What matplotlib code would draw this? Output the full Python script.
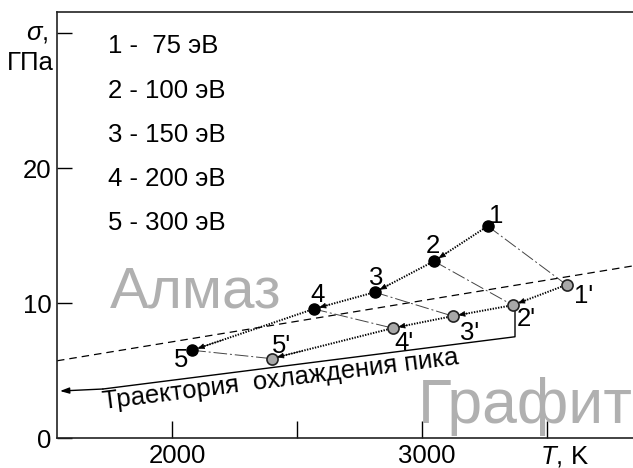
import numpy as np
import matplotlib.pyplot as plt
from matplotlib.transforms import ScaledTranslation

plt.rcParams['font.family'] = ['Liberation Sans', 'DejaVu Sans']
plt.rcParams['mathtext.fontset'] = 'custom'
plt.rcParams['mathtext.rm'] = 'Liberation Sans'
plt.rcParams['mathtext.it'] = 'Liberation Sans:italic'

# peak points 1..5 (filled) and after cooling 1'..5' (open)
T_peak = [3263, 3048, 2811, 2567, 2081]
s_peak = [15.7, 13.1, 10.8, 9.56, 6.5]
T_cool = [3578, 3363, 3123, 2883, 2398]
s_cool = [11.35, 9.84, 9.03, 8.14, 5.88]
peak_names = ['1', '2', '3', '4', '5']
cool_names = ["1'", "2'", "3'", "4'", "5'"]
legend_lines = ['1 -  75 эВ', '2 - 100 эВ', '3 - 150 эВ', '4 - 200 эВ', '5 - 300 эВ']

# diamond / graphite boundary
T_bound = [1540, 3844]
s_bound = [5.72, 12.75]

# cooling trajectory bracket
T_traj = [3372, 3372, 1724]
s_traj = [9.45, 7.5, 3.63]
T_arrow_end, s_arrow_end = 1552, 3.48

xticks = [2000, 2500, 3000, 3500]
xticklabels = ['2000', '', '3000', '$T$, K']
yticks = [0, 10, 20, 30]
yticklabels = ['0', '10', '20', '']

FS = 18.5

fig = plt.figure(figsize=(6.33, 4.68), dpi=100)
W, H = 633, 468
ax = fig.add_axes([57 / W, 30 / H, 1 - 57 / W, (438 - 12) / H])
ax.set_xlim(1540, 3844)
ax.set_ylim(0, 31.56)

for sp in ['left', 'bottom', 'top']:
    ax.spines[sp].set_linewidth(1.2)
    ax.spines[sp].set_color('#222222')
ax.spines['right'].set_visible(False)

ax.set_xticks(xticks)
ax.set_xticklabels(xticklabels)
ax.set_yticks(yticks)
ax.set_yticklabels(yticklabels)
ax.tick_params(axis='x', direction='in', length=12, width=1, pad=4, labelsize=FS)
ax.tick_params(axis='y', direction='in', length=11, width=1, pad=4, labelsize=FS)

# shift x tick labels a bit right like in the original
shifts = [5, 0, 5, 17]
for lab, dx in zip(ax.get_xticklabels(), shifts):
    lab.set_transform(lab.get_transform() + ScaledTranslation(dx / 100, 0, fig.dpi_scale_trans))

# axis name at top left
fig.text(48 / W, 1 - 33 / H, r'$\sigma$,', ha='right', va='center', fontsize=FS)
fig.text(54 / W, 1 - 70 / H, 'ГПа', ha='right', va='baseline', fontsize=FS)

# big region words
ax.text(1752, 9.7, 'Алмаз', fontsize=42, color='#b0b0b0', ha='left', va='baseline')
ax.text(2984, 1.11, 'Графит', fontsize=45, color='#b0b0b0', ha='left', va='baseline')

# boundary line
ax.plot(T_bound, s_bound, color='k', lw=0.9, ls=(0, (6, 4)))

# dash-dot connections peak -> cooled
for i in range(len(T_peak)):
    ax.plot([T_peak[i], T_cool[i]], [s_peak[i], s_cool[i]], color='#444444', lw=0.7,
            ls=(0, (14, 3, 2, 3)))

# dotted chains with arrow heads
def chain(Ts, ss):
    for i in range(len(Ts) - 1):
        a = np.array([Ts[i], ss[i]])
        b = np.array([Ts[i + 1], ss[i + 1]])
        ax.plot([a[0], b[0]], [a[1], b[1]], color='k', lw=1.4, ls=(0, (0.7, 0.7)))
        start = b + 0.25 * (a - b)
        ax.annotate('', xy=b, xytext=start,
                    arrowprops=dict(arrowstyle='-|>,head_length=0.6,head_width=0.25',
                                    color='k', lw=0.5, shrinkA=0, shrinkB=4,
                                    mutation_scale=7))

chain(T_peak, s_peak)
chain(T_cool, s_cool)

ax.plot(T_peak, s_peak, 'o', color='k', ms=8, zorder=5)
ax.plot(T_cool, s_cool, 'o', mfc='#a8a8a8', mec='#222222', mew=1.2, ms=8, zorder=5)

peak_off = [(6, 7), (-1, 11), (1, 10), (3, 10), (-8, -7)]
cool_off = [(12, -8), (10, -10), (12, -12), (8, -11), (7, 9)]
for i in range(len(T_peak)):
    ax.annotate(peak_names[i], (T_peak[i], s_peak[i]), xytext=peak_off[i],
                textcoords='offset points', ha='center', va='center', fontsize=FS)
    ax.annotate(cool_names[i], (T_cool[i], s_cool[i]), xytext=cool_off[i],
                textcoords='offset points', ha='center', va='center', fontsize=FS)

# cooling trajectory
ax.plot(T_traj, s_traj, color='k', lw=1.0)
ax.annotate('', xy=(T_arrow_end, s_arrow_end), xytext=(T_traj[-1], s_traj[-1]),
            arrowprops=dict(arrowstyle='-|>,head_length=0.6,head_width=0.2',
                            color='k', lw=1.0, shrinkA=0, shrinkB=0, mutation_scale=9))
ax.text(1724, 2.15, 'Траектория  охлаждения пика', fontsize=FS, rotation=7.2,
        rotation_mode='anchor', ha='left', va='baseline')

# energy legend
for i, txt in enumerate(legend_lines):
    ax.text(1744, 28.5 - i * 3.28, txt, fontsize=FS, ha='left', va='baseline')

fig.savefig('out.png', dpi=100)
